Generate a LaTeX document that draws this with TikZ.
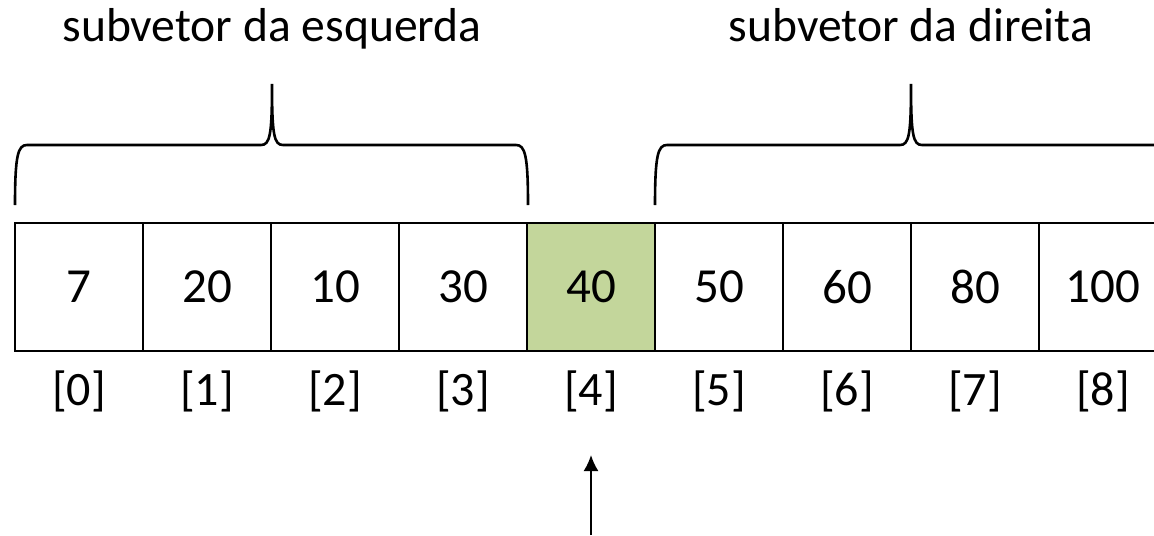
\documentclass[tikz,border=0pt]{standalone}
\usepackage{fontspec}
\setmainfont{Carlito}
\usetikzlibrary{positioning}
\usetikzlibrary{arrows.meta}
\definecolor{verdepivo}{HTML}{C3D69B}
\tikzstyle{celula}=[rectangle,draw=black,line width=1pt,outer sep=0pt,minimum width=64pt,minimum height=64pt,inner sep=0pt,font=\fontsize{24.5}{28}\selectfont]
\tikzstyle{indice}=[font=\fontsize{24}{28}\selectfont,anchor=base]
\tikzstyle{titulo}=[font=\fontsize{23.8}{27}\selectfont,anchor=base]
\tikzstyle{chave}=[line width=1.3pt]
\tikzstyle{seta}=[-{Latex[length=8pt,width=7.5pt]},line width=1pt]

% chave: {inicio}{ponta}{fim}
\newcommand{\chave}[3]{%
  \draw[chave] (#1,205) .. controls (#1,155) and (#1+3,145) .. (#1+12,145)
    -- (#2-11,145) .. controls (#2-2,145) and (#2,135) .. (#2,84)
    .. controls (#2,135) and (#2+2,145) .. (#2+11,145)
    -- (#3-12,145) .. controls (#3-3,145) and (#3,155) .. (#3,205);}

\begin{document}
\begin{tikzpicture}[x=0.5pt,y=-0.5pt]
\useasboundingbox (0,0) rectangle (1154,535);

%vetor
  \foreach \val/\cor [count=\i from 0] in {7/white,20/white,10/white,30/white,40/verdepivo,50/white,60/white,80/white,100/white}
      \node[celula,fill=\cor] (c\i) at (79+128*\i,287) {\val};

%indices
  \foreach \i in {0,...,8}
      \node[indice] (i\i) at (79+128*\i,405) {[\i]};

%subvetores
\chave{15}{272}{528}
\chave{655}{911}{1167}
\node[titulo] (tesq) at (272,42) {subvetor da esquerda};
\node[titulo] (tdir) at (911,42) {subvetor da direita};

%pivo
\coordinate (base) at (591,535);
\coordinate (ponta) at (591,455);
\draw[seta] (base) -- (ponta);

\end{tikzpicture}
\end{document}
